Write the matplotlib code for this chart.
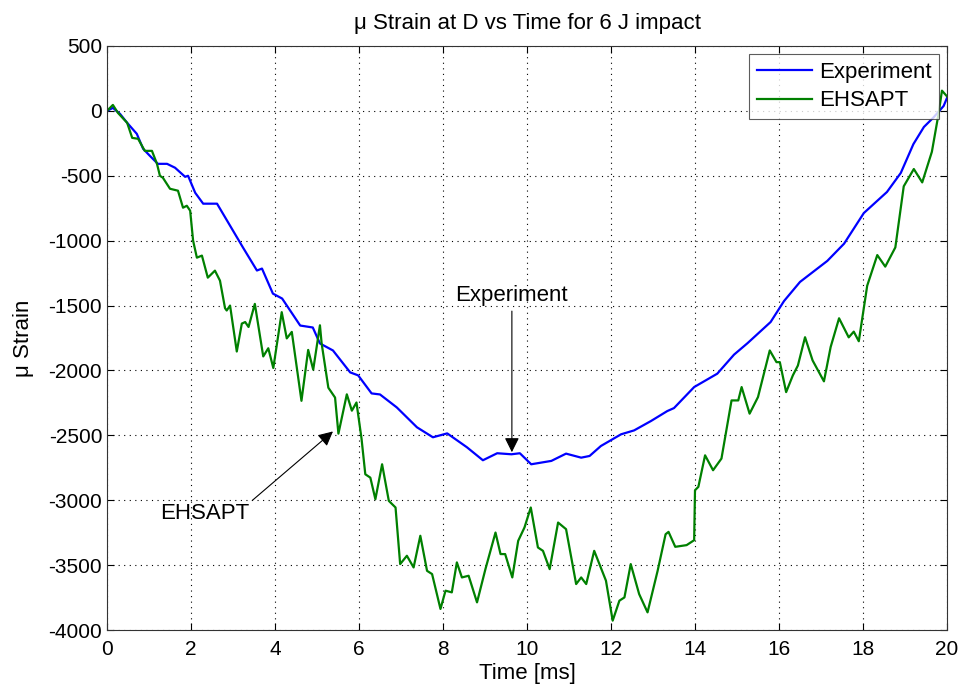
import matplotlib
matplotlib.use("Agg")
import matplotlib.pyplot as plt

plt.rcParams['font.family'] = ['Liberation Sans', 'DejaVu Sans']
plt.rcParams['axes.unicode_minus'] = False

exp_t = [0, 0.14, 0.31, 0.48, 0.71, 0.86, 1.02, 1.21, 1.43, 1.62, 1.86, 1.93, 2.1, 2.29, 2.62,
         3.24, 3.57, 3.69, 3.95, 4.17, 4.6, 4.9, 5.07, 5.38, 5.79, 5.98, 6.3, 6.5, 6.9, 7.38,
         7.76, 8.1, 8.57, 8.95, 9.29, 9.63, 9.83, 10.1, 10.58, 10.93, 11.29, 11.49, 11.76,
         12.24, 12.55, 12.95, 13.34, 13.5, 13.98, 14.53, 14.93, 15.25, 15.8, 16.12, 16.5,
         17.15, 17.55, 18.02, 18.57, 18.9, 19.2, 19.45, 19.68, 19.92, 20.0]
exp_v = [0, 23, -23, -92, -177, -292, -346, -408, -408, -438, -508, -500, -631, -715, -715,
         -1054, -1230, -1215, -1408, -1446, -1654, -1669, -1792, -1846, -2015, -2038, -2177,
         -2185, -2285, -2438, -2515, -2485, -2592, -2692, -2638, -2646, -2638, -2723, -2697,
         -2641, -2672, -2659, -2582, -2492, -2462, -2390, -2313, -2290, -2128, -2025, -1878,
         -1790, -1627, -1465, -1318, -1156, -1023, -787, -625, -478, -256, -124, -50, 38, 100]

ehs_t = [0, 0.14, 0.26, 0.48, 0.6, 0.74, 0.9, 1.07, 1.19, 1.26, 1.33, 1.5, 1.69, 1.81, 1.9,
         1.98, 2.05, 2.14, 2.26, 2.4, 2.57, 2.69, 2.81, 2.85, 2.93, 3.09, 3.21, 3.29, 3.37,
         3.52, 3.72, 3.84, 3.96, 4.16, 4.28, 4.40, 4.63, 4.79, 4.91, 5.07, 5.11, 5.27, 5.43,
         5.51, 5.71, 5.83, 5.94, 6.06, 6.15, 6.27, 6.39, 6.55, 6.71, 6.87, 6.98, 7.14, 7.3,
         7.46, 7.62, 7.74, 7.94, 8.06, 8.21, 8.33, 8.45, 8.61, 8.81, 9.01, 9.25, 9.37, 9.48,
         9.65, 9.79, 9.94, 10.09, 10.26, 10.38, 10.54, 10.74, 10.93, 11.17, 11.29, 11.41,
         11.6, 11.88, 12.04, 12.2, 12.32, 12.47, 12.67, 12.87, 13.11, 13.3, 13.37, 13.53,
         13.8, 13.98, 14.0, 14.08, 14.24, 14.43, 14.63, 14.87, 15.03, 15.11, 15.3, 15.5,
         15.78, 15.94, 16.02, 16.17, 16.33, 16.45, 16.62, 16.8, 17.07, 17.23, 17.43, 17.66,
         17.78, 17.9, 18.1, 18.34, 18.53, 18.77, 18.97, 19.21, 19.41, 19.64, 19.8, 19.88, 20.0]
ehs_v = [0, 46, -15, -92, -208, -215, -308, -308, -408, -500, -515, -600, -615, -746, -731,
         -769, -1000, -1131, -1115, -1285, -1231, -1308, -1520, -1538, -1500, -1854, -1639,
         -1627, -1665, -1487, -1892, -1829, -1981, -1551, -1753, -1703, -2234, -1842, -1994,
         -1652, -1791, -2133, -2209, -2487, -2184, -2310, -2247, -2525, -2800, -2826, -2992,
         -2723, -3005, -3056, -3492, -3428, -3518, -3274, -3544, -3569, -3838, -3697, -3710,
         -3479, -3595, -3582, -3787, -3531, -3249, -3415, -3415, -3595, -3313, -3210, -3056,
         -3364, -3390, -3531, -3172, -3223, -3646, -3595, -3646, -3390, -3620, -3928, -3774,
         -3749, -3492, -3723, -3864, -3544, -3262, -3244, -3359, -3346, -3308, -2923, -2897,
         -2654, -2769, -2679, -2231, -2231, -2128, -2333, -2205, -1846, -1936, -1936, -2167,
         -2038, -1962, -1744, -1923, -2084, -1819, -1598, -1745, -1701, -1775, -1347, -1111,
         -1200, -1052, -581, -448, -551, -315, -21, 156, 112]

x_ticks = [0, 2, 4, 6, 8, 10, 12, 14, 16, 18, 20]
y_ticks = [500, 0, -500, -1000, -1500, -2000, -2500, -3000, -3500, -4000]

fig = plt.figure(figsize=(9.66, 6.92), dpi=100)
ax = fig.add_axes([107/966, 1 - 630/692, (947-107)/966, (630-46)/692])

ax.plot(exp_t, exp_v, color=(0, 0, 1), lw=1.6, label='Experiment')
ax.plot(ehs_t, ehs_v, color=(0, 0.5, 0), lw=1.6, label='EHSAPT')

ax.set_xlim(0, 20)
ax.set_ylim(-4000, 500)
ax.set_xticks(x_ticks)
ax.set_yticks(y_ticks)
ax.tick_params(direction='in', top=True, right=True, labelsize=15, length=5, width=0.8)
ax.tick_params(axis='x', pad=7)
ax.grid(True, color='black', linestyle=(0, (1, 4)), linewidth=0.8)
for s in ax.spines.values():
    s.set_color('#333333')
    s.set_linewidth(0.8)

ax.set_title('\u03bc Strain at D vs Time for 6 J impact', fontsize=16, pad=12)
ax.set_xlabel('Time [ms]', fontsize=16, labelpad=3)
ax.set_ylabel('\u03bc Strain', fontsize=16, labelpad=10)

leg = ax.legend(loc='upper right', fontsize=16, handlelength=2.5, fancybox=False,
                borderaxespad=0.35, borderpad=0.35, labelspacing=0.35, handletextpad=0.3)
leg.get_frame().set_edgecolor('#333333')
leg.get_frame().set_linewidth(0.8)

ax.annotate('Experiment', xy=(9.64, -2630), xytext=(9.64, -1500), fontsize=16,
            ha='center', va='bottom',
            arrowprops=dict(arrowstyle='-|>', color='black', lw=0.8, mutation_scale=22,
                            shrinkA=2, shrinkB=0))
ax.annotate('EHSAPT', xy=(5.38, -2470), xytext=(2.33, -3020), fontsize=16,
            ha='center', va='top',
            arrowprops=dict(arrowstyle='-|>', color='black', lw=0.8, mutation_scale=22,
                            shrinkA=0, shrinkB=0, relpos=(1.0, 1.0)))

fig.savefig('out.png', dpi=100)
